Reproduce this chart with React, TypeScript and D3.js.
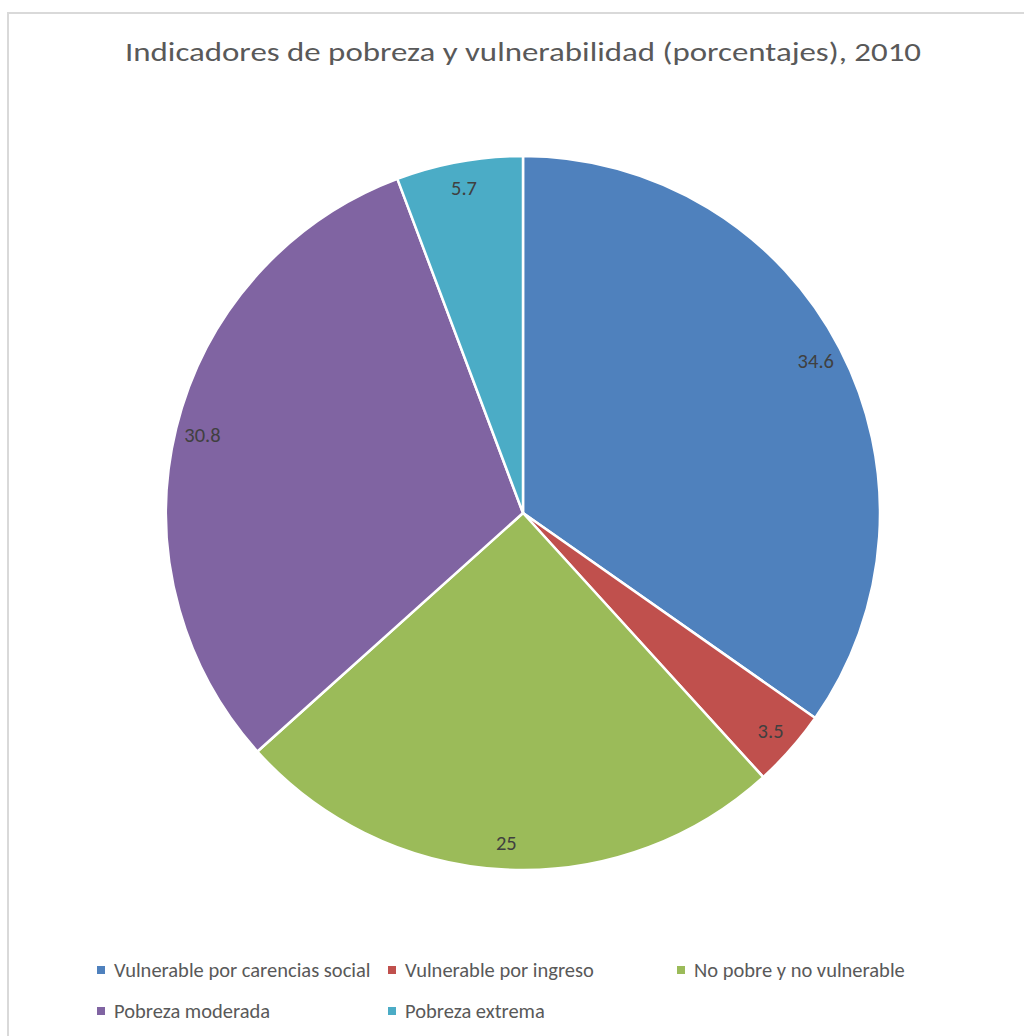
import * as d3 from 'd3'

const W = 1024
const H = 1036

const TITLE = 'Indicadores de pobreza y vulnerabilidad (porcentajes), 2010'
const categories = [
  'Vulnerable por carencias social',
  'Vulnerable por ingreso',
  'No pobre y no vulnerable',
  'Pobreza moderada',
  'Pobreza extrema',
]
const values = [34.6, 3.5, 25, 30.8, 5.7]
const colors = ['#4F81BD', '#C0504D', '#9BBB59', '#8064A2', '#4BACC6']

// legend layout: 3 columns, 2 rows
const LEG_COLS = [97, 388, 677]
const LEG_ROWS = [970, 1011]

const CX = 523
const CY = 513
const R = 357
const LABEL_R = 330
const FONT = 'Carlito, Calibri, Lato, "Open Sans", sans-serif'

export default function App() {
  const pie = d3.pie<number>().sort(null).value((d) => d)
  const arcs = pie(values)
  const arc = d3.arc<d3.PieArcDatum<number>>().innerRadius(0).outerRadius(R)
  const labelArc = d3.arc<d3.PieArcDatum<number>>().innerRadius(LABEL_R).outerRadius(LABEL_R)

  return (
    <div style={{ position: 'absolute', left: 0, top: 0 }}>
      <svg width={W} height={H} style={{ display: 'block', background: '#fff' }}>
        {/* chart area border, cropped on right and bottom */}
        <rect x={8} y={13} width={W + 20} height={H + 20} fill="#fff" stroke="#d9d9d9" strokeWidth={2} />

        <text
          x={523}
          y={61}
          textAnchor="middle"
          fontFamily={FONT}
          fontSize={26}
          fill="#595959"
          textLength={796}
          lengthAdjust="spacingAndGlyphs"
        >
          {TITLE}
        </text>

        <g transform={`translate(${CX},${CY})`}>
          {arcs.map((a, i) => (
            <path key={categories[i]} d={arc(a) ?? ''} fill={colors[i]} stroke="#fff" strokeWidth={2.5} strokeLinejoin="round" />
          ))}
          {arcs.map((a, i) => {
            const [x, y] = labelArc.centroid(a)
            return (
              <text
                key={'l' + i}
                x={x}
                y={y}
                textAnchor="middle"
                dominantBaseline="central"
                fontFamily={FONT}
                fontSize={20.5}
                fill="#404040"
              >
                {String(values[i])}
              </text>
            )
          })}
        </g>

        {categories.map((c, i) => {
          const col = i % 3
          const row = Math.floor(i / 3)
          const x = LEG_COLS[col]
          const y = LEG_ROWS[row]
          return (
            <g key={'leg' + i}>
              <rect x={x} y={y - 4} width={8} height={8} fill={colors[i]} />
              <text
                x={x + 17}
                y={y}
                dominantBaseline="central"
                fontFamily={FONT}
                fontSize={20.5}
                fill="#595959"
              >
                {c}
              </text>
            </g>
          )
        })}
      </svg>
    </div>
  )
}
